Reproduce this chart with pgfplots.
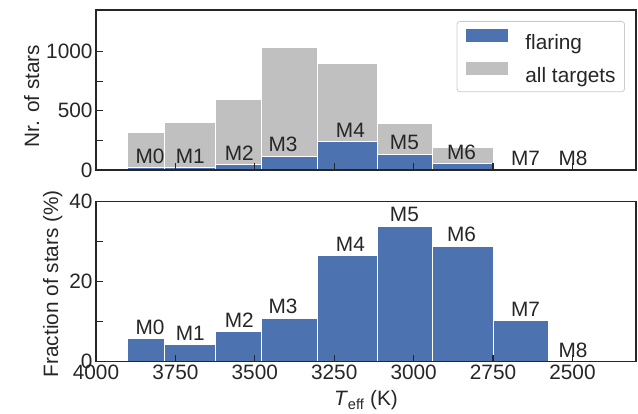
\documentclass[border=0pt]{standalone}
\usepackage{pgfplots}
\usepackage{pgfplotstable}
\pgfplotsset{compat=1.18}
\usepackage{fontspec}
\setmainfont{Liberation Sans}
\definecolor{fblue}{HTML}{4C72B0}
\definecolor{agray}{HTML}{C0C0C0}
\definecolor{dk}{HTML}{262626}

\pgfplotstableread{
edge all flare frac
2424 0 0 0
2576 13 1 10.3
2749 189 55 28.9
2940 395 134 33.9
3114 902 239 26.5
3304 1034 115 10.9
3480 594 48 7.6
3625 403 17 4.2
3785 315 18 5.7
3902 0 0 0
}\bins

\pgfplotstableread{
x lab flare frac
3830 M0 18 5.7
3703 M1 17 4.2
3549 M2 48 7.6
3411 M3 115 10.9
3199 M4 239 26.5
3029 M5 134 33.9
2849 M6 55 28.9
2648 M7 1 10.3
2498 M8 0 0
}\labs

\pgfplotsset{
  myax/.style={
    scale only axis, width=540pt, height=160pt,
    xmin=2300, xmax=4000, x dir=reverse,
    xtick={2500,2750,3000,3250,3500,3750,4000},
    tick align=inside, tick pos=left,
    major tick length=7pt, minor tick length=7pt,
    every tick/.style={dk, line width=1.2pt},
    axis line style={dk, line width=1.2pt},
    font=\fontsize{20.8}{25}\selectfont,
    tick label style={dk},
    label style={dk},
    /pgf/number format/assume math mode=true,
    /pgf/number format/1000 sep={},
    axis on top, clip=false,
  },
  labplot/.style={draw=none, mark=none, nodes near coords, point meta=explicit symbolic,
    nodes near coords style={anchor=south, inner sep=4pt, dk, font=\fontsize{20.8}{25}\selectfont}},
}

\begin{document}
\begin{tikzpicture}
\useasboundingbox (-96pt,-244pt) rectangle (542pt,170pt);
\begin{axis}[myax, at={(0,0)}, anchor=south west,
  ymin=0, ymax=1350, ytick={0,500,1000}, minor y tick num=1,
  xticklabels={},
  ylabel={Nr. of stars},
  every axis y label/.append style={xshift=-6pt},
  legend style={at={(axis description cs:1,1)}, anchor=north east, xshift=-11pt, yshift=-11pt,
    draw=black!20, line width=0.8pt, rounded corners=3pt, fill=white,
    inner xsep=9pt, inner ysep=8pt, row sep=11pt, nodes={inner sep=0pt, text=dk},
    font=\fontsize{20.8}{25}\selectfont},
  legend cell align=left,
]
\addplot[ybar interval, fill=agray, draw=white, line width=1pt, forget plot] table[x=edge, y=all] {\bins};
\addplot[ybar interval, fill=fblue, draw=white, line width=1pt, forget plot] table[x=edge, y=flare] {\bins};
\addplot[labplot, forget plot] table[x=x, y=flare, meta=lab] {\labs};
\addlegendimage{legend image code/.code={\fill[fblue,sharp corners] (0pt,1pt) rectangle (41pt,13pt); \path[draw=none,fill=none] (41pt,0pt) -- (59pt,0pt);}}
\addlegendentry{flaring}
\addlegendimage{legend image code/.code={\fill[agray,sharp corners] (0pt,1pt) rectangle (41pt,13pt); \path[draw=none,fill=none] (41pt,0pt) -- (59pt,0pt);}}
\addlegendentry{all targets}
\end{axis}

\begin{axis}[myax, at={(0,-31.7pt)}, anchor=north west,
  ymin=0, ymax=40, ytick={0,20,40}, minor y tick num=1,
  ylabel={Fraction of stars (\%)},
  every axis y label/.append style={xshift=-2pt},
  xlabel={\textit{T}\textsubscript{eff} (K)},
  every axis x label/.append style={yshift=-4pt},
]
\addplot[ybar interval, fill=fblue, draw=white, line width=1pt] table[x=edge, y=frac] {\bins};
\addplot[labplot] table[x=x, y=frac, meta=lab] {\labs};
\end{axis}
\end{tikzpicture}
\end{document}
